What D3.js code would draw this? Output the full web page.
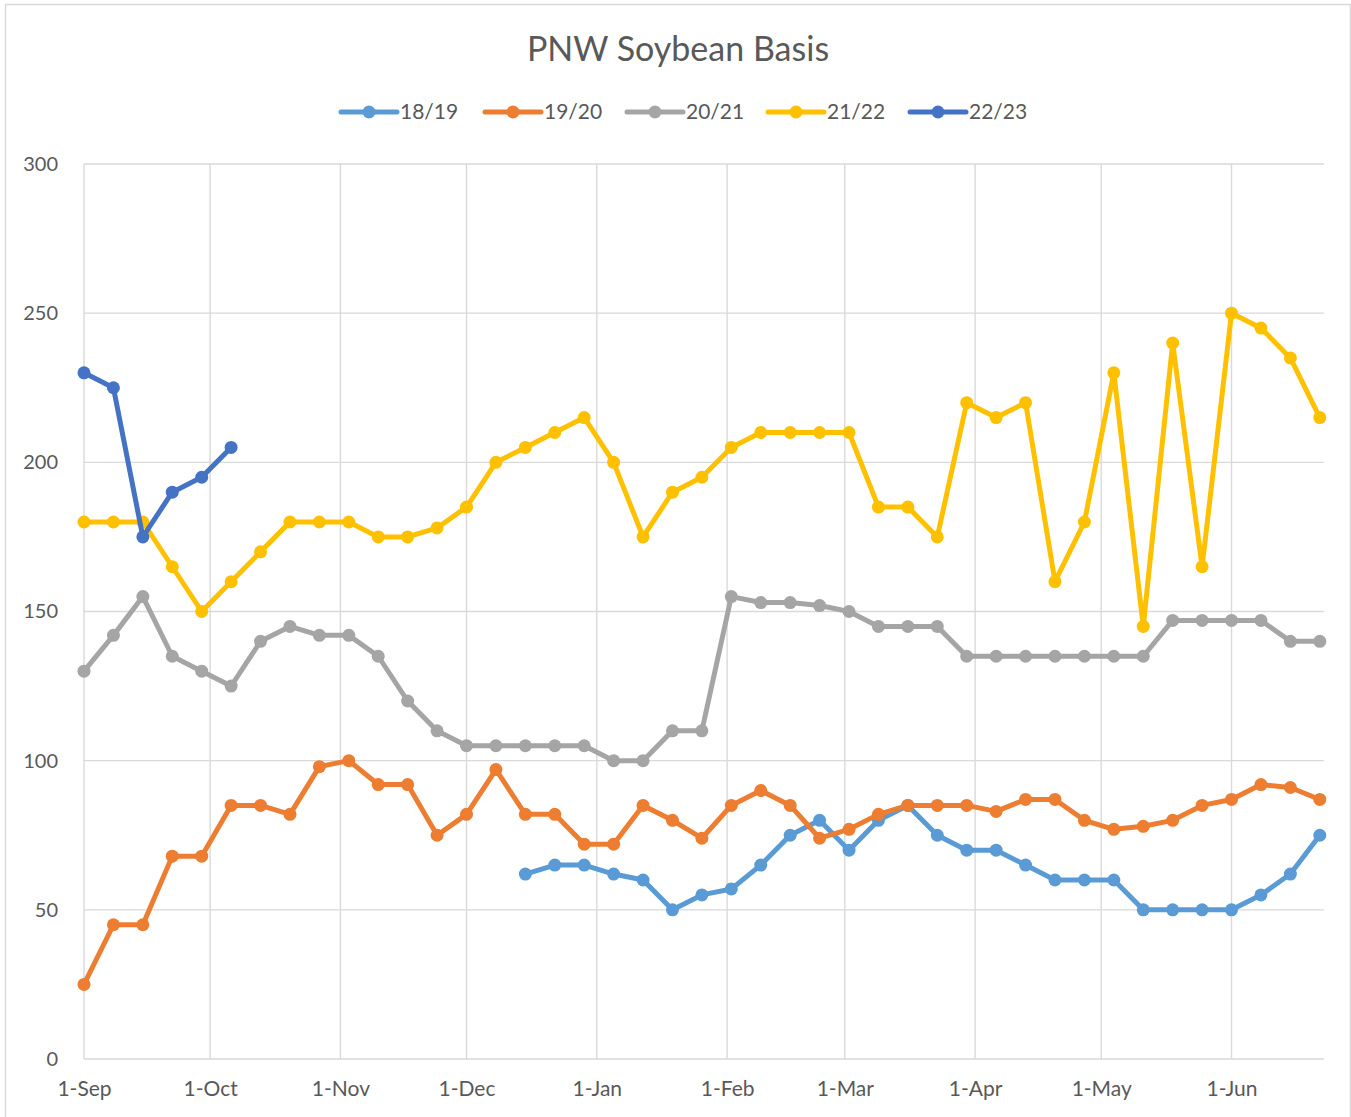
<!DOCTYPE html>
<html><head><meta charset="utf-8">
<script src="https://cdn.jsdelivr.net/npm/d3@7"></script>
<style>
html,body{margin:0;padding:0;background:#fff;}
svg{display:block;font-family:Lato,"Open Sans",sans-serif;}
</style></head>
<body>
<svg id="chart" width="1351" height="1117"></svg>
<script>
const dates = ["2021-09-01","2021-09-08","2021-09-15","2021-09-22","2021-09-29",
"2021-10-06","2021-10-13","2021-10-20","2021-10-27",
"2021-11-03","2021-11-10","2021-11-17","2021-11-24",
"2021-12-01","2021-12-08","2021-12-15","2021-12-22","2021-12-29",
"2022-01-05","2022-01-12","2022-01-19","2022-01-26",
"2022-02-02","2022-02-09","2022-02-16","2022-02-23",
"2022-03-02","2022-03-09","2022-03-16","2022-03-23","2022-03-30",
"2022-04-06","2022-04-13","2022-04-20","2022-04-27",
"2022-05-04","2022-05-11","2022-05-18","2022-05-25",
"2022-06-01","2022-06-08","2022-06-15","2022-06-22"];

const seriesNames = ["18/19","19/20","20/21","21/22","22/23"];
const seriesColors = ["#5B9BD5","#ED7D31","#A5A5A5","#FFC000","#4472C4"];

const s1819 = [null,null,null,null,null,null,null,null,null,null,null,null,null,null,null,
  62,65,65,62,60,50,55,57,65,75,80,70,80,85,75,70,70,65,60,60,60,50,50,50,50,55,62,75];
const s1920 = [25,45,45,68,68,85,85,82,98,100,92,92,75,82,97,82,82,72,72,85,80,74,85,90,85,74,77,82,85,85,85,83,87,87,80,77,78,80,85,87,92,91,87];
const s2021 = [130,142,155,135,130,125,140,145,142,142,135,120,110,105,105,105,105,105,100,100,110,110,155,153,153,152,150,145,145,145,135,135,135,135,135,135,135,147,147,147,147,140,140];
const s2122 = [180,180,180,165,150,160,170,180,180,180,175,175,178,185,200,205,210,215,200,175,190,195,205,210,210,210,210,185,185,175,220,215,220,160,180,230,145,240,165,250,245,235,215];
const s2223 = [230,225,175,190,195,205];

const yTicks = [0,50,100,150,200,250,300];
const xStart = "2021-09-01", xEnd = "2022-06-23";

const seriesValues = [s1819,s1920,s2021,s2122,s2223];
const parse = d3.utcParse("%Y-%m-%d");
const dateObjs = dates.map(parse);

const svg = d3.select("#chart");
const W = 1351, H = 1117;
const pL = 84, pR = 1324, pT = 164, pB = 1059;

// chart border
svg.append("rect").attr("x",5.5).attr("y",4.5).attr("width",W-6).attr("height",H+10)
  .attr("fill","#fff").attr("stroke","#d9d9d9").attr("stroke-width",1.5);

const x = d3.scaleUtc().domain([parse(xStart),parse(xEnd)]).range([pL,pR]);
const y = d3.scaleLinear().domain([0,300]).range([pB,pT]);

const monthTicks = d3.utcMonth.range(parse(xStart), parse(xEnd));

// horizontal gridlines
const gy = svg.append("g");
gy.selectAll("line").data(yTicks).join("line")
  .attr("x1",pL).attr("x2",pR)
  .attr("y1",d=>y(d)).attr("y2",d=>y(d))
  .attr("stroke","#d9d9d9").attr("stroke-width",1.4);
// vertical gridlines
const gx = svg.append("g");
gx.selectAll("line").data(monthTicks).join("line")
  .attr("x1",d=>x(d)).attr("x2",d=>x(d))
  .attr("y1",pT).attr("y2",pB)
  .attr("stroke","#d9d9d9").attr("stroke-width",1.4);

// y axis labels
const yAxis = d3.axisLeft(y).tickValues(yTicks).tickSize(0).tickPadding(26);
const ya = svg.append("g").attr("transform",`translate(${pL},0)`).call(yAxis);
ya.select(".domain").remove();
ya.selectAll("text").attr("fill","#595959").style("font-size","20px").style("font-family","Lato,sans-serif");

// x axis labels
const xAxis = d3.axisBottom(x).tickValues(monthTicks).tickSize(0).tickPadding(22).tickFormat(d3.utcFormat("%-d-%b"));
const xa = svg.append("g").attr("transform",`translate(0,${pB})`).call(xAxis);
xa.select(".domain").remove();
xa.selectAll("text").attr("fill","#595959").style("font-size","21px").style("font-family","Lato,sans-serif");

// lines
const line = d3.line().defined(d=>d.v!=null).x(d=>x(d.date)).y(d=>y(d.v));
seriesValues.forEach((vals,si)=>{
  const pts = vals.map((v,i)=>({date:dateObjs[i], v:v}));
  const g = svg.append("g");
  g.append("path").datum(pts).attr("d",line).attr("fill","none")
    .attr("stroke",seriesColors[si]).attr("stroke-width",5).attr("stroke-linejoin","round");
  g.selectAll("circle").data(pts.filter(d=>d.v!=null)).join("circle")
    .attr("cx",d=>x(d.date)).attr("cy",d=>y(d.v)).attr("r",6.5)
    .attr("fill",seriesColors[si]);
});

// title
svg.append("text").attr("x",678).attr("y",61).attr("text-anchor","middle")
  .attr("fill","#595959").style("font-size","34px").style("font-family","Lato,sans-serif")
  .text("PNW Soybean Basis");

// legend
const legendX = [341,485,627,768,910];
const lg = svg.append("g");
seriesNames.forEach((n,i)=>{
  const lx = legendX[i], ly = 112;
  lg.append("line").attr("x1",lx).attr("x2",lx+56).attr("y1",ly).attr("y2",ly)
    .attr("stroke",seriesColors[i]).attr("stroke-width",5).attr("stroke-linecap","round");
  lg.append("circle").attr("cx",lx+28).attr("cy",ly).attr("r",6.5).attr("fill",seriesColors[i]);
  lg.append("text").attr("x",lx+59).attr("y",ly+7).attr("fill","#595959")
    .style("font-size","21px").style("font-family","Lato,sans-serif").text(n);
});
</script>
</body></html>
